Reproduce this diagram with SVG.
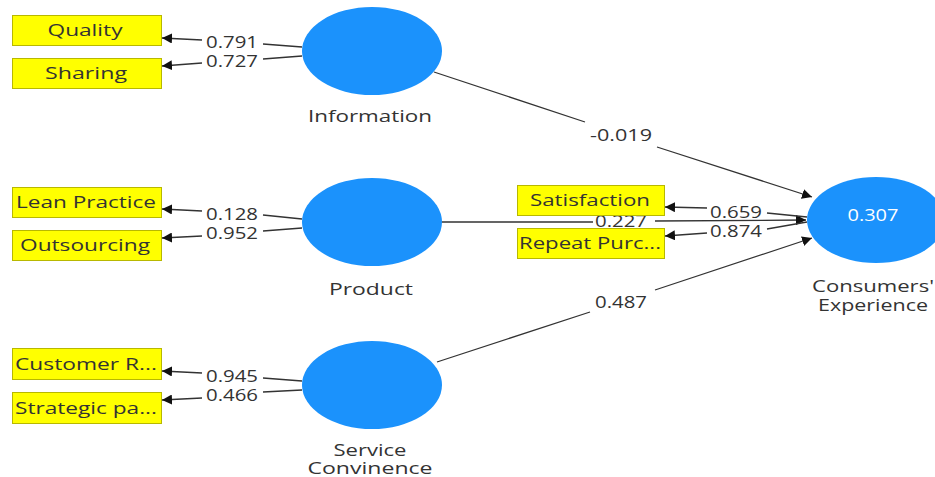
<svg xmlns="http://www.w3.org/2000/svg" width="935" height="477" viewBox="0 0 935 477">
<defs>
<style>
.box{fill:#ffff00;stroke:#b8b800;stroke-width:1}
.bt{font-family:"Open Sans","Liberation Sans",sans-serif;font-size:17px;fill:#333;text-anchor:middle}
.lv{fill:#1b92fc}
.lt{font-family:"Open Sans","Liberation Sans",sans-serif;font-size:17px;fill:#333;text-anchor:middle}
.num{font-family:"Open Sans","Liberation Sans",sans-serif;font-size:17px;fill:#333;text-anchor:middle}
.edge{fill:none;stroke:#333;stroke-width:1.3;marker-end:url(#ah)}
</style>
<marker id="ah" viewBox="0 0 10 10" refX="10" refY="5" markerWidth="10" markerHeight="10" markerUnits="userSpaceOnUse" orient="auto">
<path d="M0,0 L10,5 L0,10 Z" fill="#111"/>
</marker>
</defs>
<rect width="935" height="477" fill="#fff"/>
<g id="connectors">
<path class="edge" d="M302,47 L263,44 M202,40 L162,38"/>
<path class="edge" d="M302,56 L263,59 M202,63 L162,66"/>
<path class="edge" d="M302,219 L263,215 M202,211 L162,209"/>
<path class="edge" d="M302,228 L263,231 M202,236 L162,238"/>
<path class="edge" d="M302,381 L263,378 M202,373 L162,371"/>
<path class="edge" d="M302,390 L263,392 M202,398 L162,400"/>
<path class="edge" d="M434,72 L585,122 M657,147 L812,197"/>
<path class="edge" d="M441,222 L593,222 M655,221 L806,220"/>
<path class="edge" d="M437,362 L590,312 M655,290 L812,238"/>
<path class="edge" d="M807,217 L767,213 M707,208 L665,207"/>
<path class="edge" d="M807,222 L767,229 M707,233 L665,236"/>
<text class="num" x="232" y="48" textLength="52" lengthAdjust="spacingAndGlyphs">0.791</text>
<text class="num" x="232" y="67" textLength="52" lengthAdjust="spacingAndGlyphs">0.727</text>
<text class="num" x="232" y="220" textLength="52" lengthAdjust="spacingAndGlyphs">0.128</text>
<text class="num" x="232" y="239" textLength="52" lengthAdjust="spacingAndGlyphs">0.952</text>
<text class="num" x="232" y="382" textLength="52" lengthAdjust="spacingAndGlyphs">0.945</text>
<text class="num" x="232" y="401" textLength="52" lengthAdjust="spacingAndGlyphs">0.466</text>
<text class="num" x="621" y="141" textLength="62" lengthAdjust="spacingAndGlyphs">-0.019</text>
<text class="num" x="621" y="227" textLength="52" lengthAdjust="spacingAndGlyphs">0.227</text>
<text class="num" x="621" y="308" textLength="52" lengthAdjust="spacingAndGlyphs">0.487</text>
<text class="num" x="736" y="218" textLength="52" lengthAdjust="spacingAndGlyphs">0.659</text>
<text class="num" x="736" y="237" textLength="52" lengthAdjust="spacingAndGlyphs">0.874</text>
</g>
<g id="quality"><rect class="box" x="12.5" y="15.5" width="149" height="30"/><text class="bt" x="85" y="36" textLength="75" lengthAdjust="spacingAndGlyphs">Quality</text></g>
<g id="sharing"><rect class="box" x="12.5" y="58.5" width="149" height="30"/><text class="bt" x="86" y="79" textLength="82" lengthAdjust="spacingAndGlyphs">Sharing</text></g>
<g id="lean"><rect class="box" x="12.5" y="187.5" width="149" height="30"/><text class="bt" x="86" y="208" textLength="140" lengthAdjust="spacingAndGlyphs">Lean Practice</text></g>
<g id="outsourcing"><rect class="box" x="12.5" y="230.5" width="149" height="30"/><text class="bt" x="85" y="251" textLength="130" lengthAdjust="spacingAndGlyphs">Outsourcing</text></g>
<g id="customer"><rect class="box" x="12.5" y="348.5" width="149" height="31"/><text class="bt" x="86" y="370" textLength="142" lengthAdjust="spacingAndGlyphs">Customer R...</text></g>
<g id="strategic"><rect class="box" x="12.5" y="392.5" width="149" height="31"/><text class="bt" x="86" y="414" textLength="142" lengthAdjust="spacingAndGlyphs">Strategic pa...</text></g>
<g id="satisfaction"><rect class="box" x="517.5" y="185.5" width="147" height="30"/><text class="bt" x="590" y="206" textLength="120" lengthAdjust="spacingAndGlyphs">Satisfaction</text></g>
<g id="repeat"><rect class="box" x="517.5" y="228.5" width="147" height="30"/><text class="bt" x="590" y="249" textLength="142" lengthAdjust="spacingAndGlyphs">Repeat Purc...</text></g>
<g id="information"><ellipse class="lv" cx="372" cy="51" rx="70" ry="44"/><text class="lt" x="370" y="122" textLength="124" lengthAdjust="spacingAndGlyphs">Information</text></g>
<g id="product"><ellipse class="lv" cx="372" cy="222" rx="70" ry="44"/><text class="lt" x="371" y="295" textLength="84" lengthAdjust="spacingAndGlyphs">Product</text></g>
<g id="service"><ellipse class="lv" cx="372" cy="385" rx="70" ry="44"/><text class="lt" x="370" y="456" textLength="73" lengthAdjust="spacingAndGlyphs">Service</text><text class="lt" x="370" y="474" textLength="125" lengthAdjust="spacingAndGlyphs">Convinence</text></g>
<g id="consumers"><ellipse class="lv" cx="876" cy="220" rx="69" ry="43"/><text x="873" y="221" font-family="Open Sans, Liberation Sans, sans-serif" font-size="17" fill="#fff" text-anchor="middle" textLength="51" lengthAdjust="spacingAndGlyphs">0.307</text><text class="lt" x="873" y="292" textLength="122" lengthAdjust="spacingAndGlyphs">Consumers'</text><text class="lt" x="873" y="311" textLength="110" lengthAdjust="spacingAndGlyphs">Experience</text></g>
</svg>
